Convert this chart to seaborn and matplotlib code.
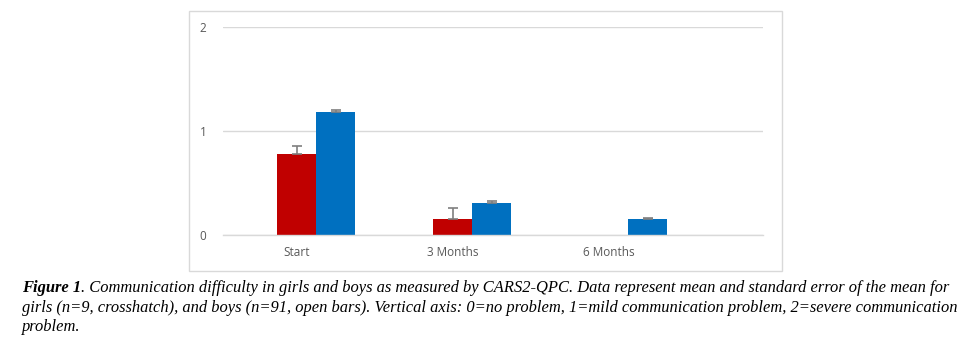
import pandas as pd
import numpy as np
import seaborn as sns
import matplotlib.pyplot as plt
from matplotlib.patches import Rectangle

# valores
momentos = ['Start', '3 Months', '6 Months']
meninas = [0.78, 0.155, 0.0]
meninas_ep = [0.08, 0.10, 0.0]
meninos = [1.18, 0.31, 0.155]
meninos_ep = [0.02, 0.02, 0.004]
vazio = [0.0, 0.0, 0.0]  # serie escondida (o excel reserva o espaco)

titulo_fig = "Figure 1"
linhas_legenda = [
    ". Communication difficulty in girls and boys as measured by CARS2-QPC. "
    "Data represent mean and standard error of the mean for",
    "girls (n=9, crosshatch), and boys (n=91, open bars). Vertical axis: 0=no problem, "
    "1=mild communication problem, 2=severe communication",
    "problem.",
]

df = pd.DataFrame({
    'momento': momentos * 3,
    'valor': vazio + meninas + meninos,
    'grupo': ['vazio'] * 3 + ['girls'] * 3 + ['boys'] * 3,
})

sns.set_style('white')
plt.rcParams['font.family'] = ['Open Sans', 'DejaVu Sans']

fig = plt.figure(figsize=(9.77, 3.51), dpi=100)
ax = fig.add_axes([223 / 977, 1 - 235 / 351, 540 / 977, 208 / 351])

cores = {'vazio': (1, 1, 1, 0), 'girls': '#C00000', 'boys': '#0070C0'}
sns.barplot(data=df, x='momento', y='valor', hue='grupo', order=momentos,
            hue_order=['vazio', 'girls', 'boys'], palette=cores, width=0.75,
            saturation=1, errorbar=None, linewidth=0, legend=False, ax=ax)

# barras de erro (so para cima, como no excel)
for cont, ep in zip(ax.containers[1:], [meninas_ep, meninos_ep]):
    for barra, e in zip(cont, ep):
        if barra.get_height() <= 0:
            continue
        xc = barra.get_x() + barra.get_width() / 2
        h = barra.get_height()
        ax.errorbar(xc, h, yerr=[[0], [e]], color='#7f7f7f', lw=1.2,
                    capsize=3.3, capthick=1.2, clip_on=False, zorder=5)

ax.set_xlim(-0.474, 2.99)
ax.set_ylim(0, 2)
ax.set_yticks([0, 1, 2])
ax.set_yticklabels(['0', '1', '2'])
ax.yaxis.grid(True, color='#d9d9d9', lw=1)
ax.set_axisbelow(True)
for lado in ['top', 'right', 'left']:
    ax.spines[lado].set_visible(False)
ax.spines['bottom'].set_color('#d9d9d9')
ax.spines['bottom'].set_linewidth(1)
ax.tick_params(axis='both', length=0, labelsize=8.5, colors='#595959')
ax.tick_params(axis='y', pad=12)
ax.tick_params(axis='x', pad=8)
ax.set_xlabel('')
ax.set_ylabel('')

# moldura do grafico
fig.patches.append(Rectangle((189 / 977, 1 - 271 / 351), 593 / 977, 260 / 351,
                             transform=fig.transFigure, fill=False,
                             edgecolor='#d9d9d9', lw=1))

# legenda da figura
fonte = dict(family='Liberation Serif', style='italic', fontsize=11.85, color='black')
x0 = 22 / 977
ys = [288, 307.5, 327]
t = fig.text(x0, 1 - ys[0] / 351, titulo_fig, ha='left', va='center',
             weight='bold', **fonte)
fig.canvas.draw()
larg = t.get_window_extent().width / fig.bbox.width
fig.text(x0 + larg, 1 - ys[0] / 351, linhas_legenda[0], ha='left', va='center', **fonte)
for y, linha in zip(ys[1:], linhas_legenda[1:]):
    fig.text(x0, 1 - y / 351, linha, ha='left', va='center', **fonte)

plt.savefig('out.png', dpi=100)
